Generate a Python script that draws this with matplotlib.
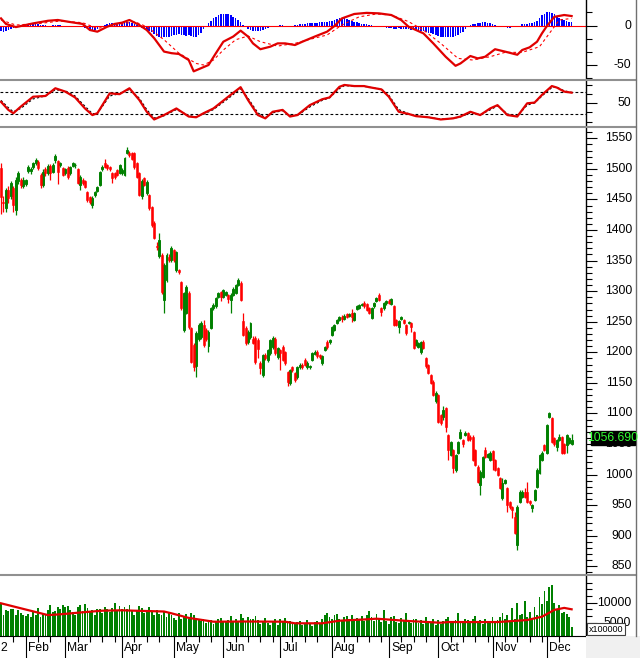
import numpy as np
import matplotlib
matplotlib.use("Agg")
import matplotlib.pyplot as plt
import matplotlib.transforms as mtrans
from matplotlib.lines import Line2D
from matplotlib.patches import Rectangle

plt.rcParams['font.family'] = ['Liberation Sans', 'DejaVu Sans']

# daily candles, Jan 2022 -> mid Dec 2022
opens = [1501, 1446, 1436, 1465, 1455, 1469, 1432, 1480, 1482, 1472,
         1476, 1497, 1496, 1503, 1510, 1512, 1490, 1474, 1499, 1493,
         1505, 1495, 1514, 1513, 1506, 1501, 1493, 1501, 1493, 1505,
         1506, 1500, 1474, 1482, 1480, 1462, 1454, 1441, 1457, 1464,
         1474, 1500, 1510, 1506, 1503, 1493, 1493, 1498, 1493, 1493,
         1490, 1526, 1526, 1526, 1526, 1510, 1493, 1455, 1485, 1460,
         1457, 1438, 1412, 1374, 1358, 1359, 1286, 1318, 1356, 1351,
         1367, 1335, 1335, 1315, 1237, 1264, 1297, 1240, 1212, 1178,
         1222, 1225, 1245, 1237, 1210, 1240, 1272, 1275, 1290, 1298,
         1291, 1294, 1294, 1286, 1294, 1297, 1310, 1314, 1252, 1240,
         1217, 1225, 1222, 1224, 1220, 1182, 1163, 1195, 1187, 1199,
         1209, 1222, 1192, 1204, 1209, 1200, 1168, 1150, 1176, 1166,
         1160, 1176, 1179, 1187, 1176, 1176, 1187, 1198, 1200, 1195,
         1182, 1204, 1217, 1217, 1228, 1237, 1248, 1253, 1258, 1255,
         1262, 1259, 1264, 1253, 1271, 1273, 1277, 1280, 1279, 1272,
         1256, 1275, 1284, 1294, 1272, 1272, 1280, 1284, 1279, 1276,
         1253, 1241, 1255, 1253, 1245, 1248, 1248, 1233, 1212, 1209,
         1200, 1217, 1191, 1179, 1163, 1152, 1120, 1130, 1097, 1094,
         1109, 1065, 1032, 1040, 1008, 1036, 1060, 1057, 1065, 1068,
         1062, 1062, 1040, 1013, 983, 996, 1040, 1029, 1024, 1038,
         1024, 1011, 994, 962, 986, 978, 955, 947, 931, 885,
         955, 963, 972, 972, 957, 945, 958, 980, 1003, 1024,
         1048, 1036, 1094, 1093, 1060, 1045, 1057, 1061, 1050, 1049,
         1052, 1050]
highs = [1510, 1456, 1468, 1472, 1480, 1472, 1486, 1497, 1485, 1486,
         1484, 1506, 1503, 1512, 1518, 1515, 1493, 1500, 1503, 1508,
         1508, 1510, 1524, 1515, 1512, 1503, 1502, 1504, 1505, 1512,
         1509, 1502, 1490, 1485, 1482, 1464, 1456, 1455, 1464, 1472,
         1497, 1506, 1516, 1508, 1505, 1495, 1495, 1500, 1508, 1501,
         1520, 1536, 1529, 1528, 1528, 1512, 1495, 1484, 1487, 1482,
         1459, 1440, 1414, 1380, 1395, 1362, 1346, 1362, 1360, 1374,
         1369, 1366, 1337, 1317, 1299, 1310, 1300, 1242, 1215, 1235,
         1248, 1251, 1253, 1240, 1236, 1274, 1280, 1291, 1299, 1301,
         1304, 1300, 1296, 1297, 1306, 1312, 1322, 1316, 1264, 1243,
         1236, 1250, 1226, 1227, 1223, 1185, 1197, 1199, 1206, 1222,
         1227, 1225, 1209, 1206, 1212, 1202, 1170, 1173, 1178, 1168,
         1178, 1182, 1182, 1190, 1185, 1180, 1201, 1204, 1203, 1197,
         1196, 1211, 1220, 1222, 1243, 1247, 1255, 1260, 1261, 1262,
         1265, 1264, 1271, 1266, 1278, 1279, 1281, 1284, 1281, 1274,
         1274, 1282, 1291, 1297, 1274, 1282, 1286, 1287, 1289, 1278,
         1255, 1253, 1260, 1255, 1247, 1252, 1250, 1235, 1222, 1217,
         1219, 1220, 1193, 1181, 1165, 1154, 1136, 1132, 1099, 1112,
         1111, 1067, 1055, 1042, 1034, 1055, 1075, 1059, 1072, 1070,
         1064, 1064, 1042, 1015, 1007, 1030, 1045, 1035, 1038, 1040,
         1026, 1013, 996, 994, 993, 980, 957, 949, 939, 950,
         974, 974, 978, 988, 959, 952, 977, 1010, 1034, 1038,
         1050, 1083, 1103, 1095, 1062, 1059, 1066, 1063, 1052, 1067,
         1062, 1066]
lows = [1427, 1430, 1430, 1445, 1450, 1430, 1425, 1476, 1468, 1468,
        1472, 1494, 1492, 1500, 1506, 1498, 1468, 1470, 1488, 1490,
        1482, 1493, 1510, 1475, 1503, 1488, 1490, 1483, 1490, 1503,
        1502, 1475, 1465, 1474, 1468, 1446, 1443, 1436, 1454, 1462,
        1472, 1497, 1501, 1498, 1497, 1477, 1484, 1488, 1491, 1490,
        1488, 1524, 1520, 1514, 1500, 1485, 1455, 1450, 1472, 1457,
        1432, 1405, 1385, 1368, 1355, 1296, 1264, 1315, 1348, 1348,
        1348, 1332, 1328, 1270, 1234, 1262, 1238, 1182, 1170, 1160,
        1218, 1222, 1208, 1218, 1200, 1238, 1270, 1273, 1288, 1284,
        1289, 1292, 1280, 1264, 1292, 1295, 1308, 1284, 1226, 1212,
        1214, 1222, 1213, 1181, 1190, 1165, 1160, 1188, 1184, 1196,
        1206, 1196, 1189, 1171, 1185, 1180, 1145, 1147, 1168, 1152,
        1157, 1173, 1173, 1177, 1173, 1172, 1185, 1196, 1191, 1189,
        1179, 1202, 1206, 1214, 1226, 1235, 1246, 1251, 1250, 1253,
        1256, 1257, 1250, 1251, 1269, 1271, 1275, 1273, 1267, 1262,
        1254, 1273, 1282, 1284, 1259, 1270, 1278, 1279, 1277, 1243,
        1243, 1231, 1253, 1246, 1229, 1246, 1234, 1205, 1210, 1207,
        1198, 1205, 1175, 1164, 1148, 1128, 1117, 1084, 1081, 1090,
        1070, 1024, 1030, 1003, 1005, 1034, 1058, 1045, 1063, 1055,
        1055, 1022, 1014, 986, 967, 994, 1027, 1027, 1022, 1008,
        1006, 997, 976, 958, 984, 939, 944, 929, 903, 877,
        953, 961, 961, 953, 951, 938, 956, 978, 1001, 1022,
        1038, 1034, 1092, 1051, 1046, 1038, 1055, 1033, 1033, 1035,
        1050, 1048]
closes = [1454, 1444, 1465, 1452, 1477, 1441, 1482, 1493, 1474, 1482,
          1481, 1503, 1500, 1510, 1514, 1502, 1474, 1495, 1493, 1505,
          1493, 1506, 1521, 1495, 1510, 1490, 1500, 1487, 1503, 1510,
          1507, 1477, 1487, 1477, 1471, 1449, 1446, 1452, 1462, 1470,
          1495, 1503, 1503, 1501, 1500, 1485, 1487, 1490, 1506, 1498,
          1518, 1531, 1523, 1516, 1503, 1487, 1457, 1480, 1474, 1479,
          1436, 1408, 1387, 1372, 1384, 1299, 1343, 1359, 1351, 1371,
          1351, 1364, 1332, 1272, 1297, 1307, 1241, 1184, 1176, 1232,
          1245, 1248, 1212, 1222, 1233, 1272, 1277, 1289, 1297, 1291,
          1302, 1298, 1287, 1294, 1304, 1310, 1318, 1286, 1228, 1215,
          1233, 1248, 1215, 1184, 1205, 1174, 1195, 1191, 1204, 1220,
          1224, 1199, 1207, 1199, 1187, 1182, 1152, 1171, 1171, 1155,
          1176, 1179, 1176, 1179, 1182, 1178, 1199, 1201, 1194, 1192,
          1194, 1209, 1209, 1220, 1241, 1245, 1253, 1258, 1255, 1260,
          1258, 1262, 1258, 1264, 1276, 1277, 1279, 1275, 1269, 1264,
          1272, 1280, 1289, 1286, 1266, 1280, 1284, 1281, 1287, 1245,
          1245, 1251, 1258, 1248, 1231, 1250, 1241, 1207, 1220, 1215,
          1217, 1207, 1177, 1166, 1150, 1130, 1133, 1086, 1085, 1106,
          1078, 1040, 1053, 1011, 1032, 1053, 1069, 1050, 1068, 1057,
          1058, 1024, 1016, 988, 1005, 1028, 1029, 1033, 1036, 1024,
          1008, 999, 978, 986, 991, 950, 947, 942, 905, 947,
          972, 972, 963, 955, 953, 950, 975, 1008, 1032, 1036,
          1040, 1081, 1100, 1053, 1050, 1057, 1061, 1035, 1035, 1065,
          1060, 1056.69]

# volume in units of 100000 shares
volume = [9600, 7000, 8200, 7800, 8300, 8400, 6800, 8200, 7500, 6800,
          6600, 7200, 6400, 7800, 7000, 8600, 6300, 7400, 6900, 8200,
          9500, 7600, 8000, 9000, 8400, 9500, 8800, 9200, 8100, 7700,
          7000, 8900, 9300, 8000, 9600, 8700, 7800, 8200, 7000, 8400,
          8300, 7400, 9000, 8500, 7700, 8600, 9800, 7800, 9100, 8300,
          8900, 8300, 9500, 7800, 6900, 8200, 9200, 8600, 7500, 7900,
          8800, 7600, 6900, 8200, 7200, 7000, 8000, 6500, 7300, 6800,
          6100, 5600, 7300, 6000, 6300, 7200, 5900, 7400, 6900, 6100,
          5600, 5300, 5900, 4900, 5200, 5600, 4700, 5400, 5800, 6200,
          5300, 5100, 5700, 6600, 5400, 5900, 5200, 7200, 6100, 5500,
          6300, 5800, 6000, 6700, 5600, 4700, 5300, 6100, 5000, 4400,
          5400, 6000, 4300, 5800, 5200, 6200, 4800, 5500, 4900, 4600,
          5100, 5400, 4300, 4900, 5700, 5000, 4200, 5200, 5500, 4600,
          5900, 6800, 7300, 6400, 5800, 6900, 7200, 6000, 5500, 6400,
          6700, 6000, 6900, 5400, 6200, 5800, 6600, 5300, 6900, 8000,
          6400, 5500, 7200, 6000, 5100, 8100, 5300, 4700, 6400, 6700,
          5200, 4900, 6100, 5600, 7500, 5200, 4800, 5800, 6000, 5000,
          5700, 4600, 6300, 5500, 4900, 5900, 4500, 5600, 4700, 5300,
          5800, 6400, 4800, 5200, 5600, 7300, 5400, 5000, 6000, 5600,
          4800, 5900, 6600, 5200, 5700, 4600, 6000, 5400, 5100, 6400,
          5000, 5700, 6300, 7400, 5900, 6800, 5300, 8600, 5900, 9900,
          6900, 7200, 10300, 6300, 7700, 6000, 8800, 7000, 11500, 9600,
          12800, 10500, 13800, 14400, 10000, 8200, 9300, 7500, 7700, 7200,
          6500, 4000]
vol_ma_days = [0, 19, 24, 33, 41, 49, 54, 66, 69, 76, 86, 99, 115, 119,
               130, 137, 148, 152, 165, 178, 181, 201, 213, 219, 224, 228, 231]
vol_ma = [9850, 6900, 7100, 7600, 8000, 8100, 8000, 7800, 7350, 6200, 5250,
          5300, 5250, 4850, 4850, 5500, 5840, 6000, 5420, 4990, 5160, 5160,
          5670, 6500, 8200, 8700, 8350]

# MACD panel
macd_hist = [-7, -8, -7, -6, -4, -3, -3, -2, -2, -1, 0,
             1, 2, 3, 3, 2,
             1, 1, 0.5, 0, 0, 0.5, 1, 1, 0.5, 0,
             -1, -1.5, -2, -2, -2.5, -2, -2, -2.5,
             -3.5, -5, -6, -6.5, -5.5, -4, -2, -0.5,
             1, 2, 3, 3.5, 3.5, 3, 3, 4,
             4.5, 4.5, 4, 3.5, 2, 0.5, -1.5,
             -3, -5, -6.5, -7.5, -8.5,
             -11, -13, -15, -16, -15, -14, -14, -13,
             -12, -11.5, -11, -12, -12.5, -13, -12, -13.5, -15, -14, -12, -9,
             -5, -1, 3,
             6, 9, 11, 13, 14, 15, 15, 14, 13, 11, 9, 7,
             4, 1, -1,
             -4, -6, -7, -7, -6.5, -7, -6, -4.5, -3, -2,
             -1, -0.5, 0, 0.5, 0.5, 0, -0.5, -0.5, 0, 0.5, 1, 1.5,
             2, 2.5, 3, 3.5, 3.5, 3, 3.5, 4, 4, 4.5, 5, 5.5, 6,
             7, 8, 9, 9.5, 9, 8, 7, 6,
             5, 4, 3, 2.5, 2, 1.5, 1,
             0.5, 0, -0.5, 0,
             -1.5, -2, -3, -3, -3.5, -4, -4, -3.5, -4, -4.5, -5, -5,
             -5.5, -6, -6, -6.5, -7, -7.5, -8, -9, -10, -11,
             -12, -13, -14, -15, -15, -15, -14, -14, -13, -12, -10, -8,
             -5, -2,
             1, 2, 2.5, 3, 3.5, 4, 4, 3.5, 3, 2, 1, 0,
             -1, -2, -2.5, -3, -3, -2.5, -2, -1, 0,
             1.5, 2, 2.5, 3, 3, 4, 6,
             9, 13, 15, 17, 17.5, 16,
             14, 12, 10, 8, 7, 6, 5, 4]
macd_days = [0, 2, 6, 13, 19, 23, 28, 33, 36, 39, 43, 46, 49, 52, 56, 59, 62,
             66, 69, 72, 76, 78, 81, 84, 87, 90, 94, 97, 100, 102, 105, 109,
             112, 115, 119, 122, 127, 132, 135, 138, 143, 148, 153, 158, 162,
             165, 171, 175, 180, 184, 186, 190, 193, 196, 200, 204, 209, 211,
             214, 217, 219, 221, 224, 228, 231]
macd_line = [9, 2, -2, 2.7, 6, 7, 4.4, 2, -5.7, -7.8, -1.5, 2, 3.6, 7, 0.6,
             -5.7, -16, -33, -35, -36, -43.7, -58, -54, -50, -35, -20.5, -14,
             -6.5, -14, -22.6, -30, -26.8, -22.6, -22.6, -24.7, -20.5, -14,
             -7.8, -0.6, 9, 14.6, 16, 15.4, 13.3, 7, -1.5, -9.9, -22.6, -39.5,
             -51, -48, -38.6, -41.6, -39.5, -30, -33, -37, -31, -27.6, -20.5,
             -9.9, -0.6, 11, 13.3, 12]
signal_days = [0, 6, 16, 24, 33, 39, 49, 54, 59, 66, 72, 79, 82, 86, 90, 95,
               100, 105, 112, 119, 125, 132, 138, 145, 152, 158, 165, 171,
               178, 185, 191, 198, 204, 211, 218, 223, 226, 231]
signal_line = [7, 0.6, 2.7, 5.7, 3.6, -3.6, 1.9, 4.9, -1.5, -18, -35, -48,
               -50, -43.7, -31, -18, -13.3, -20.5, -26, -22.6, -17.5, -12, 0.6,
               11, 14.6, 13.3, 4.9, -5.7, -22.6, -41.6, -43.7, -39.5, -34, -34,
               -26.8, -5.7, 7, 9]

# stochastic panel
sto_days = [0, 3, 5, 8, 13, 18, 22, 26, 30, 34, 37, 39, 44, 48, 52, 56, 59,
            62, 66, 71, 76, 79, 82, 86, 92, 97, 100, 104, 107, 110, 114, 117,
            120, 125, 130, 133, 137, 139, 143, 147, 149, 154, 157, 161, 165,
            168, 173, 178, 183, 186, 190, 194, 198, 201, 205, 209, 213, 216,
            219, 223, 225, 228, 231]
sto_k = [54, 32, 23, 41, 68, 70, 91, 82, 66, 36, 18, 23, 77, 75, 91, 59, 27,
         6, 18, 36, 14, 12, 23, 36, 68, 94, 59, 18, 9, 27, 32, 14, 18, 45, 61,
         66, 95, 100, 97, 97, 94, 88, 68, 27, 21, 15, 12, 6, 9, 14, 27, 18, 36,
         45, 18, 14, 50, 52, 73, 97, 93, 82, 79]
sto_d = [58, 38, 27, 36, 62, 70, 87, 84, 70, 42, 22, 22, 70, 76, 88, 64, 33,
         10, 16, 33, 17, 13, 20, 33, 63, 90, 64, 24, 11, 24, 30, 17, 17, 40, 58,
         65, 90, 98, 97, 96, 94, 89, 72, 33, 22, 16, 12, 7, 9, 13, 24, 19, 32,
         43, 21, 15, 45, 51, 70, 93, 94, 84, 80]

month_names = ['Feb', 'Mar', 'Apr', 'May', 'Jun', 'Jul', 'Aug', 'Sep', 'Oct', 'Nov', 'Dec']
month_days = [10, 26, 49, 70, 90, 113, 134, 157, 177, 199, 221]
last_price = '1056.690'

RED = '#ff0000'
GREEN = '#008000'
BLUE = '#0000ff'
W, H = 640, 658
AX_RIGHT = 585.7


def box(y0, y1):
    return [0, 1 - y1 / H, AX_RIGHT / W, (y1 - y0) / H]


def style_panel(ax, ylim):
    ax.set_xlim(-0.405, 236.7)
    ax.set_ylim(*ylim)
    for s in ('left', 'top', 'bottom'):
        ax.spines[s].set_visible(False)
    ax.spines['right'].set_linewidth(1.0)
    ax.tick_params(axis='x', which='both', bottom=False, labelbottom=False)
    ax.tick_params(axis='y', which='both', left=False, labelleft=False,
                   right=True, labelright=False, direction='out', width=0.8)
    ax.tick_params(axis='y', which='major', length=8)
    ax.tick_params(axis='y', which='minor', length=4)


def right_labels(ax, values, texts, xr=632):
    tr = mtrans.blended_transform_factory(fig.transFigure, ax.transData)
    for v, t in zip(values, texts):
        ax.text(xr / W, v, t, transform=tr, ha='right', va='center',
                fontsize=8.7, clip_on=False)


fig = plt.figure(figsize=(6.4, 6.58), dpi=100)
fig.patch.set_facecolor('white')

ax_macd = fig.add_axes(box(0, 79))
ax_sto = fig.add_axes(box(81, 126))
ax_main = fig.add_axes(box(127, 574))
ax_vol = fig.add_axes(box(576, 636))

# ---- MACD
style_panel(ax_macd, (-67.7, 32.3))
ax_macd.bar(np.arange(len(macd_hist)), macd_hist, width=0.65, color=BLUE, lw=0)
ax_macd.axhline(0, color=RED, lw=0.8)
ax_macd.plot(signal_days, signal_line, color=RED, lw=0.8, dashes=(2.5, 2.5))
ax_macd.plot(macd_days, macd_line, color='#e00000', lw=1.6)
ax_macd.set_yticks([0, -50])
ax_macd.set_yticks([50 / 3 * k for k in (-4, -2, -1, 1)], minor=True)
right_labels(ax_macd, [0, -50], ['0', '-50'], 631)

# ---- Stochastic
style_panel(ax_sto, (-11.8, 110.8))
ax_sto.axhline(80, color='black', lw=0.8, dashes=(2.5, 2))
ax_sto.axhline(20, color='black', lw=0.8, dashes=(2.5, 2))
ax_sto.plot(sto_days, sto_d, color='black', lw=0.8, dashes=(2, 2))
ax_sto.plot(sto_days, sto_k, color='#e00000', lw=1.6)
ax_sto.set_yticks([50])
ax_sto.set_yticks([0, 25, 75, 100], minor=True)
right_labels(ax_sto, [50], ['50'], 631)

# ---- candles
o = np.array(opens, float)
h = np.array(highs, float)
l = np.array(lows, float)
c = np.array(closes, float)
x = np.arange(len(c))
up = c >= o
style_panel(ax_main, (837.4, 1568.5))
ax_main.vlines(x[up], l[up], h[up], color=GREEN, lw=0.9)
ax_main.vlines(x[~up], l[~up], h[~up], color=RED, lw=0.9)
ax_main.bar(x[up], (c - o)[up], bottom=o[up], width=0.8, facecolor='white',
            edgecolor=GREEN, lw=0.7)
ax_main.bar(x[~up], (o - c)[~up], bottom=c[~up], width=0.8, facecolor=RED,
            edgecolor=RED, lw=0.4)
ticks_main = list(range(850, 1551, 50))
ax_main.set_yticks(ticks_main)
ax_main.set_yticks([v for v in range(840, 1570, 10) if v % 50], minor=True)
right_labels(ax_main, ticks_main, [str(v) for v in ticks_main])

# last price tag (sits over the 1050 label, as in the source chart)
fig.patches.append(Rectangle((590.7 / W, 1 - 445.3 / H), 44.6 / W, 14.6 / H,
                             transform=fig.transFigure, facecolor='black',
                             edgecolor='black', zorder=5))
fig.text(612.8 / W, 1 - 438 / H, last_price, color='#33ff33', fontsize=8.7,
         ha='center', va='center', zorder=6)

# ---- volume
style_panel(ax_vol, (1675, 16675))
ax_vol.bar(np.arange(len(volume)), volume, width=0.75, color=GREEN, lw=0)
ax_vol.plot(vol_ma_days, vol_ma, color='#e00000', lw=1.6)
ax_vol.set_yticks([5000, 10000])
ax_vol.set_yticks([5000 / 3 * k for k in (2, 4, 5, 7, 8, 9)], minor=True)
right_labels(ax_vol, [10000, 5000], ['10000', '5000'], 631)
fig.patches.append(Rectangle((586.7 / W, 1 - 635.3 / H), 38.3 / W, 12 / H,
                             transform=fig.transFigure, facecolor='white',
                             edgecolor='#404040', lw=0.8, zorder=5))
fig.text(605.8 / W, 1 - 629.3 / H, 'x100000', fontsize=6.5, ha='center',
         va='center', zorder=6)

# month axis under the volume panel
ax_vol.spines['bottom'].set_visible(True)
ax_vol.spines['bottom'].set_linewidth(0.8)
ax_vol.tick_params(axis='x', which='both', bottom=True, direction='out',
                   width=0.8, labelbottom=False)
ax_vol.tick_params(axis='x', which='major', length=16)
ax_vol.tick_params(axis='x', which='minor', length=4)
ax_vol.set_xticks(month_days)
edges = [0] + month_days + [232]
weekly = []
for a, b in zip(edges[:-1], edges[1:]):
    weekly += list(range(a + 5, b - 1, 5))
ax_vol.set_xticks(weekly, minor=True)
tr = mtrans.blended_transform_factory(ax_vol.transData, fig.transFigure)
for d, name in zip(month_days, month_names):
    ax_vol.text(d + 0.9, 1 - 648 / H, name, transform=tr, ha='left',
                va='center', fontsize=8.7, clip_on=False)
fig.text(0.5 / W, 1 - 648 / H, '2', ha='left', va='center', fontsize=8.7)

# panel separators and frame
for yy in (80, 126.5, 575):
    fig.add_artist(Line2D([0, 636 / W], [1 - yy / H] * 2, color='#909090',
                          lw=1.5, transform=fig.transFigure))
fig.add_artist(Line2D([636 / W] * 2, [1 - 636 / H, 1], color='#707070', lw=1,
                      transform=fig.transFigure))
fig.patches.append(Rectangle((AX_RIGHT / W, 0), 1 - AX_RIGHT / W, 22 / H,
                             transform=fig.transFigure, facecolor='#f0f0f0',
                             edgecolor='none', zorder=0))

fig.savefig('out.png', dpi=100)
